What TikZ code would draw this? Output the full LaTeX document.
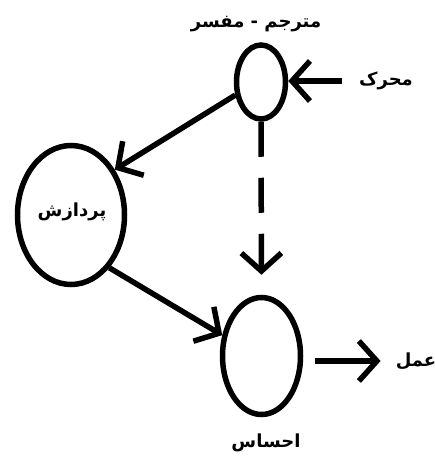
\documentclass[tikz,border=0pt]{standalone}
\usepackage{fontspec}
\usetikzlibrary{arrows.meta,shapes.geometric}
\newfontfamily\arabicfont[Script=Arabic]{DejaVu Sans}
\TeXXeTstate=1
\begin{document}
\begin{tikzpicture}[x=1pt,y=-1pt,
  circ/.style={draw,ellipse,line width=5.5pt,inner sep=0pt},
  lbl/.style={inner sep=0pt,font=\arabicfont\bfseries\fontsize{18}{20}\selectfont},
  arr/.style={line width=5.5pt,-{Straight Barb[length=18pt 0,width=40pt 0]}},
  dsh/.style={arr,dash pattern=on 35pt off 21pt}
]
\useasboundingbox (0,0) rectangle (435,463);
\node[circ,minimum width=49pt,minimum height=74pt] (top) at (261,82) {};
\node[circ,minimum width=107pt,minimum height=139pt] (left) at (71,215) {};
\node[circ,minimum width=78pt,minimum height=117pt] (bottom) at (261.5,356) {};
\node[lbl] (title) at (256,24) {\beginR مترجم - مفسر\endR};
\node[lbl] (mharrak) at (386,81) {\beginR محرک\endR};
\node[lbl] (pard) at (72,212) {\beginR پردازش\endR};
\node[lbl] (ehsas) at (266,443) {\beginR احساس\endR};
\node[lbl] (amal) at (416,361) {\beginR عمل\endR};
\draw[arr,shorten <=17pt] (mharrak.west) -- (top.east |- mharrak.west);
\draw[arr] (top.207) -- (left.46);
\draw[dsh,shorten >=20pt] (top.south) -- (bottom.north);
\draw[arr] (left.-54) -- (bottom.152);
\draw[arr,shorten <=12pt,shorten >=15pt] (bottom.east |- amal.west) -- (amal.west);
\end{tikzpicture}
\end{document}
